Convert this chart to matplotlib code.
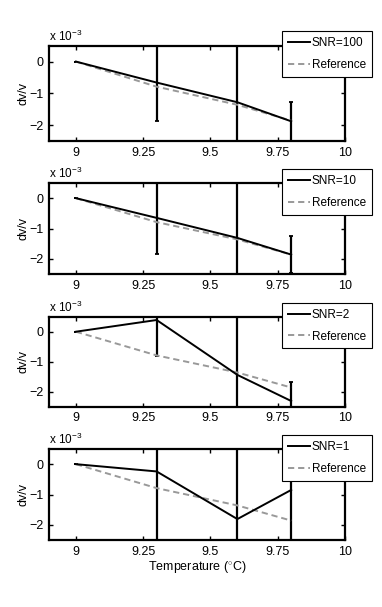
import numpy as np
import matplotlib
matplotlib.use('Agg')
import matplotlib.pyplot as plt

plt.rcParams['font.family'] = ['Liberation Sans', 'DejaVu Sans']
plt.rcParams['mathtext.fontset'] = 'custom'
plt.rcParams['mathtext.rm'] = 'Liberation Sans'

# temperatures and dv/v values (in units of 1e-3)
temps = [9.0, 9.3, 9.6, 9.8]
reference = [0.0, -0.79, -1.36, -1.86]

snr_labels = ['SNR=100', 'SNR=10', 'SNR=2', 'SNR=1']
dvv_100 = [0.0, -0.66, -1.28, -1.88]
dvv_10 = [0.0, -0.65, -1.31, -1.86]
dvv_2 = [0.0, 0.39, -1.44, -2.31]
dvv_1 = [0.0, -0.24, -1.81, -0.85]

err_100 = [0.0, 1.20, 2.2, 0.62]
err_10 = [0.0, 1.20, 2.2, 0.62]
err_2 = [0.0, 1.19, 2.2, 0.62]
err_1 = [0.0, 2.6, 2.6, 2.0]

xticks = [9, 9.25, 9.5, 9.75, 10]
xticklabels = ['9', '9.25', '9.5', '9.75', '10']
yticks = [-2, -1, 0]

series = [dvv_100, dvv_10, dvv_2, dvv_1]
errors = [err_100, err_10, err_2, err_1]

W, H = 382, 607
fig = plt.figure(figsize=(W / 100, H / 100), dpi=100)

# axes boxes in pixels: (top, bottom)
boxes = [(45.7, 141), (183, 274), (316.7, 406.7), (449, 540)]
left_px, right_px = 49, 345

for i, (top, bot) in enumerate(boxes):
    ax = fig.add_axes([left_px / W, (H - bot) / H, (right_px - left_px) / W, (bot - top) / H])
    eb = ax.errorbar(temps, series[i], yerr=errors[i], color='k', lw=1.4,
                     elinewidth=1.6, capsize=1.6, capthick=1.3)
    ref, = ax.plot(temps, reference, color='#999999', lw=1.4, ls=(0, (3.2, 2.0)))
    ax.set_xlim(8.9, 10)
    ax.set_ylim(-2.5, 0.5)
    ax.set_xticks(xticks)
    ax.set_xticklabels(xticklabels)
    ax.set_yticks(yticks)
    ax.set_yticklabels(['\u22122', '\u22121', '0'])
    ax.tick_params(direction='in', top=True, right=True, length=3, width=1,
                   labelsize=9, pad=4)
    for sp in ax.spines.values():
        sp.set_linewidth(1.6)
    ax.set_ylabel('dv/v', fontsize=9, labelpad=0)
    ax.text(0.0, 1.02, r'x 10$^{-3}$', transform=ax.transAxes, fontsize=8.5,
            ha='left', va='bottom')
    leg = ax.legend([eb[0], ref], [snr_labels[i], 'Reference'],
                    loc='upper right', bbox_to_anchor=(1.091, 1.15),
                    borderaxespad=0, fontsize=8.5, fancybox=False,
                    framealpha=1, edgecolor='k', handlelength=1.8,
                    labelspacing=0.8, borderpad=0.5, handletextpad=0.2)
    leg.get_frame().set_linewidth(0.8)
    if i == 3:
        ax.set_xlabel(r'Temperature ($^{\circ}$C)', fontsize=9, labelpad=1)

fig.savefig('out.png', dpi=100)
